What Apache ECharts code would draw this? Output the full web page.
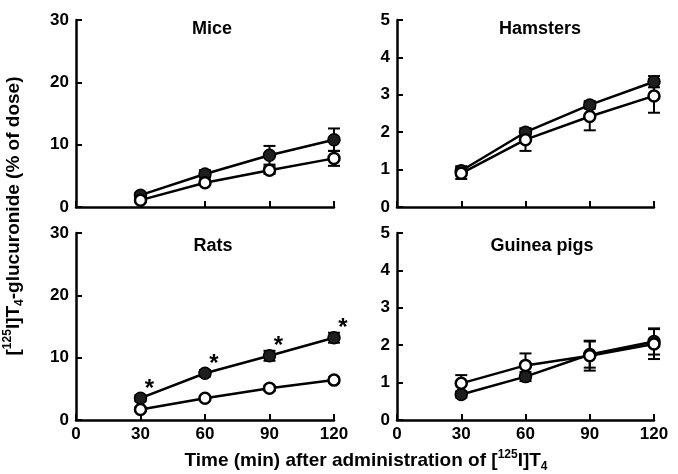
<!DOCTYPE html>
<html><head><meta charset="utf-8">
<script src="https://cdn.jsdelivr.net/npm/echarts@6/dist/echarts.min.js"></script>
<style>html,body{margin:0;padding:0;background:#fff}#c{width:678px;height:474px}</style>
</head><body><div id="c"></div>
<script>
var times = [30, 60, 90, 120];
var xTicks = [0, 30, 60, 90, 120];
var panelNames = ['Mice', 'Hamsters', 'Rats', 'Guinea pigs'];
var yMax = [30, 5, 30, 5];
var yStep = [10, 1, 10, 1];

var miceFilled = [1.9, 5.3, 8.3, 10.8];
var miceFilledErr = [0.4, 0.6, 1.5, 1.8];
var miceOpen = [1.1, 3.9, 5.9, 7.8];
var miceOpenErr = [0.3, 0.4, 0.6, 1.2];

var hamFilled = [0.97, 2.0, 2.73, 3.35];
var hamFilledErr = [0.12, 0.1, 0.1, 0.15];
var hamOpen = [0.9, 1.8, 2.42, 2.97];
var hamOpenErr = [0.15, 0.3, 0.37, 0.45];

var ratFilled = [3.5, 7.5, 10.3, 13.2];
var ratFilledErr = [0.5, 0.5, 0.8, 0.8];
var ratOpen = [1.7, 3.5, 5.1, 6.4];
var ratOpenErr = [0.3, 0.3, 0.4, 0.4];
var ratSignificant = [true, true, true, true];

var gpFilled = [0.68, 1.16, 1.75, 2.1];
var gpFilledErr = [0.08, 0.12, 0.35, 0.35];
var gpOpen = [0.98, 1.46, 1.72, 2.03];
var gpOpenErr = [0.22, 0.32, 0.4, 0.4];

var filledSets = [miceFilled, hamFilled, ratFilled, gpFilled];
var filledErrs = [miceFilledErr, hamFilledErr, ratFilledErr, gpFilledErr];
var openSets = [miceOpen, hamOpen, ratOpen, gpOpen];
var openErrs = [miceOpenErr, hamOpenErr, ratOpenErr, gpOpenErr];

var FONT = 'Liberation Sans, Arial, sans-serif';
var chart = echarts.init(document.getElementById('c'));

var grids = [
  {left: 76, top: 20, width: 258, height: 187},
  {left: 397, top: 20, width: 257, height: 187},
  {left: 76, top: 233, width: 258, height: 187},
  {left: 397, top: 233, width: 257, height: 187}
];
var titleCenters = [[207, 15], [535, 15], [208, 232], [537, 232]];

function errData(vals, errs) {
  return times.map(function (t, k) { return [t, vals[k] - errs[k], vals[k] + errs[k]]; });
}
function errRender(params, api) {
  var x = api.value(0);
  var p1 = api.coord([x, api.value(1)]);
  var p2 = api.coord([x, api.value(2)]);
  var hw = 6;
  var st = {stroke: '#000', lineWidth: 2};
  return {type: 'group', children: [
    {type: 'line', shape: {x1: p1[0], y1: p1[1], x2: p2[0], y2: p2[1]}, style: st},
    {type: 'line', shape: {x1: p1[0] - hw, y1: p1[1], x2: p1[0] + hw, y2: p1[1]}, style: st},
    {type: 'line', shape: {x1: p2[0] - hw, y1: p2[1], x2: p2[0] + hw, y2: p2[1]}, style: st}
  ]};
}

var xAxes = [], yAxes = [], series = [], titles = [];
for (var i = 0; i < 4; i++) {
  xAxes.push({
    gridIndex: i, type: 'value', min: xTicks[0], max: xTicks[xTicks.length - 1], interval: 30,
    axisLine: {lineStyle: {color: '#000', width: 2.5}},
    axisTick: {inside: true, length: 6, lineStyle: {color: '#000', width: 2}},
    splitLine: {show: false},
    axisLabel: {show: i >= 2, color: '#000', fontSize: 17, fontWeight: 'bold', fontFamily: FONT, margin: 6}
  });
  yAxes.push({
    gridIndex: i, type: 'value', min: 0, max: yMax[i], interval: yStep[i],
    axisLine: {show: true, lineStyle: {color: '#000', width: 2.5}},
    axisTick: {show: true, inside: true, length: 6, lineStyle: {color: '#000', width: 2}},
    splitLine: {show: false},
    axisLabel: {color: '#000', fontSize: 17, fontWeight: 'bold', fontFamily: FONT, margin: 7}
  });
  titles.push({
    text: panelNames[i], left: titleCenters[i][0], top: titleCenters[i][1], textAlign: 'center',
    textStyle: {fontSize: 18, fontWeight: 'bold', fontFamily: FONT, color: '#000'}
  });
  series.push({type: 'custom', xAxisIndex: i, yAxisIndex: i, z: 1, renderItem: errRender,
    data: errData(filledSets[i], filledErrs[i]), silent: true});
  series.push({type: 'custom', xAxisIndex: i, yAxisIndex: i, z: 1, renderItem: errRender,
    data: errData(openSets[i], openErrs[i]), silent: true});
  series.push({type: 'line', xAxisIndex: i, yAxisIndex: i, z: 3,
    data: times.map(function (t, k) { return [t, filledSets[i][k]]; }),
    symbol: 'circle', symbolSize: 12, showAllSymbol: true,
    lineStyle: {color: '#000', width: 2.5}, itemStyle: {color: '#1e1e1e', borderColor: '#000', borderWidth: 1.5}});
  series.push({type: 'line', xAxisIndex: i, yAxisIndex: i, z: 4,
    data: times.map(function (t, k) { return [t, openSets[i][k]]; }),
    symbol: 'circle', symbolSize: 11, showAllSymbol: true,
    lineStyle: {color: '#000', width: 2.5}, itemStyle: {color: '#fff', borderColor: '#000', borderWidth: 2.5}});
}

var starData = [];
times.forEach(function (t, k) { if (ratSignificant[k]) starData.push([t, ratFilled[k]]); });
series.push({type: 'scatter', xAxisIndex: 2, yAxisIndex: 2, z: 6, symbol: 'circle', symbolSize: 2,
  itemStyle: {color: 'rgba(0,0,0,0)'}, silent: true,
  data: starData,
  label: {show: true, formatter: '*', position: 'inside', offset: [9, -9],
    fontSize: 24, fontWeight: 'bold', fontFamily: FONT, color: '#000', opacity: 1}});

var richBase = {
  n: {fontSize: 19, fontWeight: 'bold', fontFamily: FONT, fill: '#000', lineHeight: 24, verticalAlign: 'middle'},
  s: {fontSize: 12, fontWeight: 'bold', fontFamily: FONT, fill: '#000', lineHeight: 24, verticalAlign: 'top'},
  b: {fontSize: 12, fontWeight: 'bold', fontFamily: FONT, fill: '#000', lineHeight: 24, verticalAlign: 'bottom'}
};

chart.setOption({
  backgroundColor: '#fff',
  animation: false,
  title: titles,
  grid: grids,
  xAxis: xAxes,
  yAxis: yAxes,
  series: series,
  graphic: [
    {type: 'text', x: 14, y: 216, rotation: Math.PI / 2,
      style: {text: '{n|[}{s|125}{n|I]T}{b|4}{n|-glucuronide (% of dose)}', rich: richBase,
        align: 'center', verticalAlign: 'middle'}},
    {type: 'text', x: 366, y: 461,
      style: {text: '{n|Time (min) after administration of [}{s|125}{n|I]T}{b|4}', rich: richBase,
        align: 'center', verticalAlign: 'middle'}}
  ]
});
</script>
</body></html>
